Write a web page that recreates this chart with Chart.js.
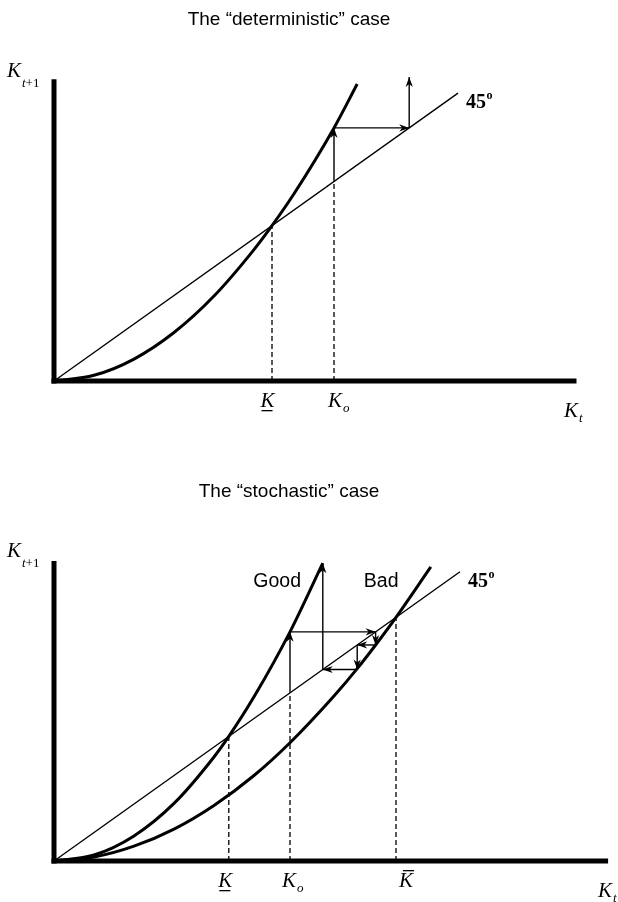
<!DOCTYPE html>
<html>
<head>
<meta charset="utf-8">
<script src="https://cdn.jsdelivr.net/npm/chart.js@4.4.1/dist/chart.umd.min.js"></script>
<style>
  html, body { margin: 0; padding: 0; background: #fff; }
  .panel { position: absolute; left: 0; width: 618px; height: 451px; }
  #top { top: 0; }
  #bottom { top: 451px; }
</style>
</head>
<body>
<div class="panel" id="top"><canvas id="chart-det" width="618" height="451"></canvas></div>
<div class="panel" id="bottom"><canvas id="chart-sto" width="618" height="451"></canvas></div>
<script>
// deterministic case: K(t) -> K(t+1)
const detK     = [0, 1, 2, 3, 4, 5, 5.45, 6, 7.0, 7.58];
const detNext  = [0, 0.2, 0.77, 1.7, 2.98, 4.61, 5.45, 6.57, 8.88, 10.42];
const detLine45 = [0, 10.1];
const detTicks = [5.45, 7.0];
const detPathK    = [7.0, 7.0, 8.88, 8.88];
const detPathNext = [7.0, 8.88, 8.88, 10.67];

// stochastic case: good and bad shocks
const goodK    = [0, 1, 2, 3, 4, 4.37, 5, 5.9, 6.72];
const goodNext = [0, 0.21, 0.88, 2.02, 3.65, 4.37, 5.76, 8.04, 10.45];
const badK     = [0, 1, 2, 3, 4, 5, 5.9, 7, 7.58, 8.04, 8.55, 9.42];
const badNext  = [0, 0.14, 0.52, 1.12, 1.95, 3.0, 4.15, 5.79, 6.75, 7.58, 8.55, 10.32];
const stoLine45 = [0, 10.15];
const stoTicks = [4.37, 5.9, 8.55];
const stoPathK    = [5.9, 5.9, 8.04, 8.04, 7.58, 7.58, 6.72, 6.72];
const stoPathNext = [5.9, 8.04, 8.04, 7.58, 7.58, 6.72, 6.72, 10.45];

const tickSubs  = { det: ['', 'o'], sto: ['', 'o', ''] };
const tickMarks = { det: ['under', ''], sto: ['under', '', 'over'] };

const serif = '"Liberation Serif", "Times New Roman", serif';
const sans = '"Liberation Sans", Arial, sans-serif';

const pts = (xs, ys) => xs.map((x, i) => ({ x, y: ys[i] }));
const line = (data, extra) => Object.assign({
  data, borderColor: '#000', borderWidth: 1.4, pointRadius: 0,
  fill: false, clip: false, tension: 0
}, extra);

function axes(xEnd, yEnd) {
  return [
    line(pts([0, xEnd], [0, 0]), { borderWidth: 5, borderCapStyle: 'square' }),
    line(pts([0, 0], [0, yEnd]), { borderWidth: 5, borderCapStyle: 'square' })
  ];
}
function dashes(ticks) {
  return ticks.map(k => line(pts([k, k], [0, k]), { borderWidth: 1.3, borderDash: [5, 3] }));
}
function arrows(xs, ys) {
  const out = [];
  for (let i = 0; i < xs.length - 1; i++) {
    out.push(line(pts([xs[i], xs[i + 1]], [ys[i], ys[i + 1]]), { arrow: true }));
  }
  return out;
}
function curve(xs, ys) {
  return line(pts(xs, ys), { borderWidth: 3, cubicInterpolationMode: 'monotone' });
}

const arrowHeads = {
  id: 'arrowHeads',
  afterDatasetsDraw(chart) {
    const ctx = chart.ctx;
    chart.data.datasets.forEach((ds, i) => {
      if (!ds.arrow) return;
      const p = chart.getDatasetMeta(i).data;
      const a = p[p.length - 2], b = p[p.length - 1];
      ctx.save();
      ctx.translate(b.x, b.y);
      ctx.rotate(Math.atan2(b.y - a.y, b.x - a.x));
      ctx.beginPath();
      ctx.moveTo(0, 0);
      ctx.lineTo(-10, -3.6);
      ctx.lineTo(-7, 0);
      ctx.lineTo(-10, 3.6);
      ctx.closePath();
      ctx.fillStyle = '#000';
      ctx.fill();
      ctx.restore();
    });
  }
};

function drawK(ctx, x, y, sub, mark) {
  ctx.font = 'italic 21px ' + serif;
  ctx.fillText('K', x, y);
  const w = ctx.measureText('K').width;
  if (mark === 'under') ctx.fillRect(x + 1, y + 3, w - 3, 1.3);
  if (mark === 'over') ctx.fillRect(x + 4, y - 17, w - 3, 1.3);
  if (sub === 't+1') {
    ctx.font = 'italic 13px ' + serif;
    ctx.fillText('t', x + w + 1, y + 10);
    const tw = ctx.measureText('t').width;
    ctx.font = '13px ' + serif;
    ctx.fillText('+1', x + w + 1 + tw, y + 10);
  } else if (sub) {
    ctx.font = 'italic 13px ' + serif;
    ctx.fillText(sub, x + w + 1, y + 5);
  }
}

function labels(opts) {
  return {
    id: 'labels',
    afterDraw(chart) {
      const { ctx, chartArea: a, scales: { x, y } } = chart;
      const y0 = y.getPixelForValue(0);
      ctx.save();
      ctx.fillStyle = '#000';
      // panel title
      ctx.font = '19px ' + sans;
      ctx.textAlign = 'center';
      ctx.textBaseline = 'middle';
      ctx.fillText(opts.title, a.left + 235, opts.titleY);

      ctx.textAlign = 'left';
      ctx.textBaseline = 'alphabetic';
      drawK(ctx, a.left - 47, a.top - 2, 't+1');
      drawK(ctx, x.getPixelForValue(opts.ktAt), y0 + 36, 't');
      opts.ticks.forEach((v, i) => {
        drawK(ctx, x.getPixelForValue(v) + opts.shift[i], y0 + 26, opts.subs[i], opts.marks[i]);
      });
      const lx = x.getPixelForValue(opts.line45[1]) + 8;
      const ly = y.getPixelForValue(opts.line45[1]) + 15;
      ctx.font = 'bold 20px ' + serif;
      ctx.fillText('45', lx, ly);
      const w45 = ctx.measureText('45').width;
      ctx.font = 'bold 12px ' + serif;
      ctx.fillText('o', lx + w45 + 0.5, ly - 9);
      if (opts.words) {
        ctx.font = '19.5px ' + sans;
        ctx.textAlign = 'center';
        ctx.textBaseline = 'middle';
        opts.words.forEach(wd => ctx.fillText(wd.text, x.getPixelForValue(wd.x), y.getPixelForValue(wd.y)));
      }
      ctx.restore();
    }
  };
}

function build(id, cfg) {
  return new Chart(document.getElementById(id), {
    type: 'line',
    data: { datasets: cfg.datasets },
    options: {
      responsive: false,
      animation: false,
      events: [],
      layout: { padding: cfg.padding },
      plugins: {
        legend: { display: false },
        tooltip: { enabled: false },
        title: { display: false }
      },
      scales: {
        x: { type: 'linear', display: false, min: 0, max: cfg.xMax },
        y: { type: 'linear', display: false, min: 0, max: 10.6 }
      }
    },
    plugins: [arrowHeads, cfg.labels]
  });
}

build('chart-det', {
  padding: { left: 54, right: 40, top: 78.9, bottom: 70 },
  xMax: 13.1,
  datasets: [
    ...axes(13.0, 10.5),
    line(pts(detLine45, detLine45)),
    ...dashes(detTicks),
    curve(detK, detNext),
    ...arrows(detPathK, detPathNext)
  ],
  labels: labels({
    title: 'The \u201cdeterministic\u201d case', titleY: 20,
    ticks: detTicks, subs: tickSubs.det, marks: tickMarks.det,
    shift: [-11.5, -6], ktAt: 12.75, line45: detLine45
  })
});

build('chart-sto', {
  padding: { left: 54, right: 8, top: 107.9, bottom: 41 },
  xMax: 13.9,
  datasets: [
    ...axes(13.79, 10.44),
    line(pts(stoLine45, stoLine45)),
    ...dashes(stoTicks),
    curve(goodK, goodNext),
    curve(badK, badNext),
    ...arrows(stoPathK, stoPathNext)
  ],
  labels: labels({
    title: 'The \u201cstochastic\u201d case', titleY: 41,
    ticks: stoTicks, subs: tickSubs.sto, marks: tickMarks.sto,
    shift: [-10.5, -8, 3], ktAt: 13.6, line45: stoLine45,
    words: [{ text: 'Good', x: 5.58, y: 9.8 }, { text: 'Bad', x: 8.18, y: 9.8 }]
  })
});
</script>
</body>
</html>
